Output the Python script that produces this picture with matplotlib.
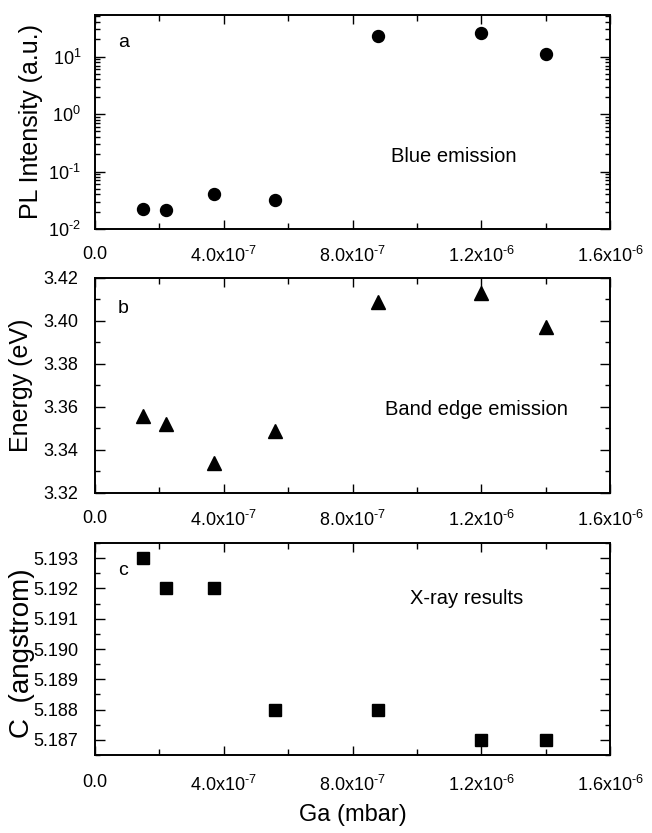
import numpy as np
import matplotlib.pyplot as plt
from matplotlib.ticker import MultipleLocator, FixedLocator, FuncFormatter, LogLocator

plt.rcParams['font.family'] = ['Liberation Sans', 'DejaVu Sans']
plt.rcParams['mathtext.fontset'] = 'custom'
plt.rcParams['mathtext.rm'] = 'Liberation Sans'
plt.rcParams['axes.unicode_minus'] = False

# Ga pressure (mbar)
ga = [1.5e-7, 2.2e-7, 3.7e-7, 5.6e-7, 8.8e-7, 1.2e-6, 1.4e-6]
# a: blue emission PL intensity
pl_intensity = [0.022, 0.021, 0.040, 0.032, 23.0, 25.5, 11.0]
# b: band edge emission energy
energy = [3.356, 3.352, 3.334, 3.349, 3.409, 3.413, 3.397]
# c: c lattice constant
c_lattice = [5.193, 5.192, 5.192, 5.188, 5.188, 5.187, 5.187]

x_labels = [0.0, 4e-7, 8e-7, 1.2e-6, 1.6e-6]


def xfmt(v, pos):
    if abs(v) < 1e-12:
        return "0.0"
    exp = int(np.floor(np.log10(v)))
    mant = v / 10 ** exp
    return r"%.1fx10$^{\text{%d}}$" % (mant, exp)


def logfmt(v, pos):
    exp = int(round(np.log10(v)))
    return r"10$^{\text{%d}}$" % exp


def style_axis(ax, pad=12, ypad=12):
    ax.set_xlim(0, 1.6e-6)
    ax.xaxis.set_major_locator(FixedLocator(x_labels))
    ax.xaxis.set_minor_locator(MultipleLocator(2e-7))
    ax.xaxis.set_major_formatter(FuncFormatter(xfmt))
    ax.tick_params(which='both', direction='in', top=True, right=True, labelsize=13)
    ax.tick_params(axis='x', which='major', length=6.5, width=1, pad=pad)
    ax.tick_params(axis='x', which='minor', length=4, width=1)
    ax.tick_params(axis='y', which='major', length=7, width=1, pad=ypad)
    ax.tick_params(axis='y', which='minor', length=3.5, width=1)
    for s in ax.spines.values():
        s.set_linewidth(1.4)


fig = plt.figure(figsize=(6.52, 8.33), dpi=100)
left, width = 0.1457, 0.79

# panel a
ax1 = fig.add_axes([left, 0.7251, width, 0.2569])
ax1.plot(ga, pl_intensity, 'o', color='black', markersize=8.6)
ax1.set_yscale('log')
ax1.set_ylim(0.01, 53)
ax1.yaxis.set_major_locator(LogLocator(base=10, numticks=10))
ax1.yaxis.set_minor_locator(LogLocator(base=10, subs=np.arange(2, 10), numticks=10))
ax1.yaxis.set_major_formatter(FuncFormatter(logfmt))
style_axis(ax1, ypad=10)
ax1.set_ylabel('PL Intensity (a.u.)', fontsize=18)
ax1.yaxis.set_label_coords(-0.101, 0.5)
ax1.text(0.045, 0.87, 'a', transform=ax1.transAxes, fontsize=14, va='center')
ax1.text(0.697, 0.34, 'Blue emission', transform=ax1.transAxes, fontsize=14.5,
         ha='center', va='center')

# panel b
ax2 = fig.add_axes([left, 0.4082, width, 0.2581])
ax2.plot(ga, energy, '^', color='black', markersize=9.5)
ax2.set_ylim(3.32, 3.42)
ax2.yaxis.set_major_locator(MultipleLocator(0.02))
ax2.yaxis.set_minor_locator(MultipleLocator(0.01))
ax2.yaxis.set_major_formatter(FuncFormatter(lambda v, p: "%.2f" % v))
style_axis(ax2)
ax2.set_ylabel('Energy (eV)', fontsize=18)
ax2.yaxis.set_label_coords(-0.12, 0.5)
ax2.text(0.045, 0.86, 'b', transform=ax2.transAxes, fontsize=14, va='center')
ax2.text(0.74, 0.39, 'Band edge emission', transform=ax2.transAxes, fontsize=14.5,
         ha='center', va='center')

# panel c
ax3 = fig.add_axes([left, 0.0936, width, 0.2545])
ax3.plot(ga, c_lattice, 's', color='black', markersize=8.5)
ax3.set_ylim(5.1865, 5.1935)
ax3.yaxis.set_major_locator(MultipleLocator(0.001))
ax3.yaxis.set_minor_locator(MultipleLocator(0.0005))
ax3.yaxis.set_major_formatter(FuncFormatter(lambda v, p: "%.3f" % v))
style_axis(ax3, pad=14)
ax3.set_ylabel('C  (angstrom)', fontsize=20)
ax3.yaxis.set_label_coords(-0.117, 0.48)
ax3.text(0.045, 0.87, 'c', transform=ax3.transAxes, fontsize=14, va='center')
ax3.text(0.722, 0.74, 'X-ray results', transform=ax3.transAxes, fontsize=14.5,
         ha='center', va='center')
ax3.set_xlabel('Ga (mbar)', fontsize=17, labelpad=7)

fig.savefig('out.png', dpi=100)
